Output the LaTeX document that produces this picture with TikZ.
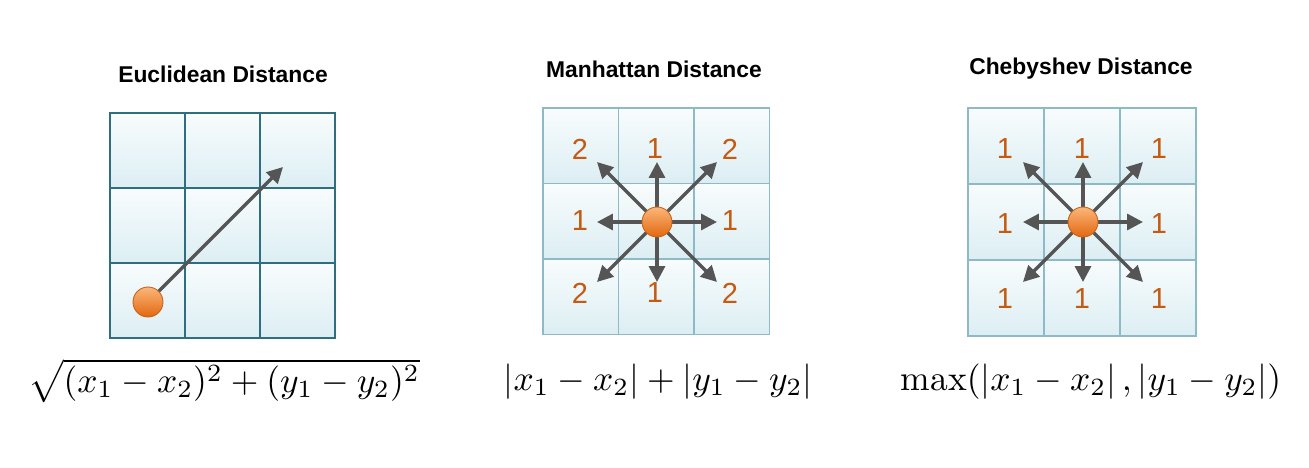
\documentclass[tikz,border=0pt]{standalone}
\usepackage{fontspec}
\setsansfont{Liberation Sans}
\usetikzlibrary{arrows.meta,calc}
\definecolor{gridDark}{HTML}{2F6E7E}
\definecolor{gridLight}{HTML}{8EB9C6}
\definecolor{cellTop}{HTML}{F8FCFD}
\definecolor{cellBot}{HTML}{DCEEF3}
\definecolor{rayGray}{HTML}{555555}
\definecolor{numOrange}{HTML}{C55A11}
\definecolor{ballTop}{HTML}{FBB77A}
\definecolor{ballBot}{HTML}{E2670F}
\definecolor{ballRim}{HTML}{C8621A}
\newcommand{\bigformula}[1]{\scalebox{2.02}{#1}}
\tikzset{
	eucell/.style={draw=gridDark, line width=1.1pt, top color=cellTop, bottom color=cellBot},
	gridcell/.style={draw=gridLight, line width=0.8pt, top color=cellTop, bottom color=cellBot},
	ray/.style={draw=rayGray, line width=1.9pt, -{Triangle[length=9pt, width=9pt]}},
	ball/.style={shape=circle, minimum size=0.6cm, inner sep=0pt, draw=ballRim, line width=0.5pt, top color=ballTop, bottom color=ballBot},
	distnum/.style={text=numOrange, font=\sffamily\fontsize{16.5}{18}\selectfont},
	disttitle/.style={anchor=base, font=\sffamily\bfseries\fontsize{13}{15}\selectfont},
	formula/.style={anchor=base, inner sep=0pt}
}
\begin{document}
\begin{tikzpicture}[x=0.02cm, y=-0.02cm]
	\useasboundingbox (0,0) rectangle (1309,467);
	% Titles:
	\node[disttitle] (eutitle) at (223, 82) {Euclidean Distance};
	\node[disttitle] (mhtitle) at (654, 77) {Manhattan Distance};
	\node[disttitle] (cbtitle) at (1081, 74) {Chebyshev Distance};
	% Grids:
	\foreach \i in {0,1,2}
		\foreach \j in {0,1,2}{
			\draw[eucell] ({110+75*\i}, {113+75*\j}) rectangle ++(75, 75);
			\draw[gridcell] ({543+75.5*\i}, {108+75.5*\j}) rectangle ++(75.5, 75.5);
			\draw[gridcell] ({968+76*\i}, {108+76*\j}) rectangle ++(76, 76);
		}
	% Numbers:
	\foreach \c/\r/\v in {0/0/2, 1/0/1, 2/0/2, 0/1/1, 2/1/1, 0/2/2, 1/2/1, 2/2/2}
		\node[distnum] (mhnum\c\r) at ({580+75*\c}, {149+72*\r}) {\v};
	\foreach \c/\r in {0/0, 1/0, 2/0, 0/1, 2/1, 0/2, 1/2, 2/2}
		\node[distnum] (cbnum\c\r) at ({1005+77*\c}, {149+75*\r}) {1};
	% Euclidean arrow and ball:
	\coordinate (euc) at (148, 302);
	\coordinate (eutip) at (283, 167);
	\draw[ray] (euc) -- (eutip);
	\node[ball] (euball) at (euc) {};
	% Manhattan and Chebyshev arrows and balls:
	\coordinate (mhc) at (657, 222);
	\coordinate (cbc) at (1083, 222);
	\foreach \n/\dx/\dy in {e/1/0, ne/1/-1, n/0/-1, nw/-1/-1, w/-1/0, sw/-1/1, s/0/1, se/1/1}{
		\coordinate (mhtip\n) at ($(mhc)+(60*\dx, 60*\dy)$);
		\coordinate (cbtip\n) at ($(cbc)+(60*\dx, 60*\dy)$);
		\draw[ray] (mhc) -- (mhtip\n);
		\draw[ray] (cbc) -- (cbtip\n);
	}
	\node[ball] (mhball) at (mhc) {};
	\node[ball] (cbball) at (cbc) {};
	% Formulas:
	\node[formula] (euform) at (224, 392) {\bigformula{$\sqrt{(x_1-x_2)^2+(y_1-y_2)^2}$}};
	\node[formula] (mhform) at (658, 390) {\bigformula{$|x_1-x_2|+|y_1-y_2|$}};
	\node[formula] (cbform) at (1091, 390) {\bigformula{$\max(\left|x_1-x_2\right|,\left|y_1-y_2\right|)$}};
\end{tikzpicture}
\end{document}
